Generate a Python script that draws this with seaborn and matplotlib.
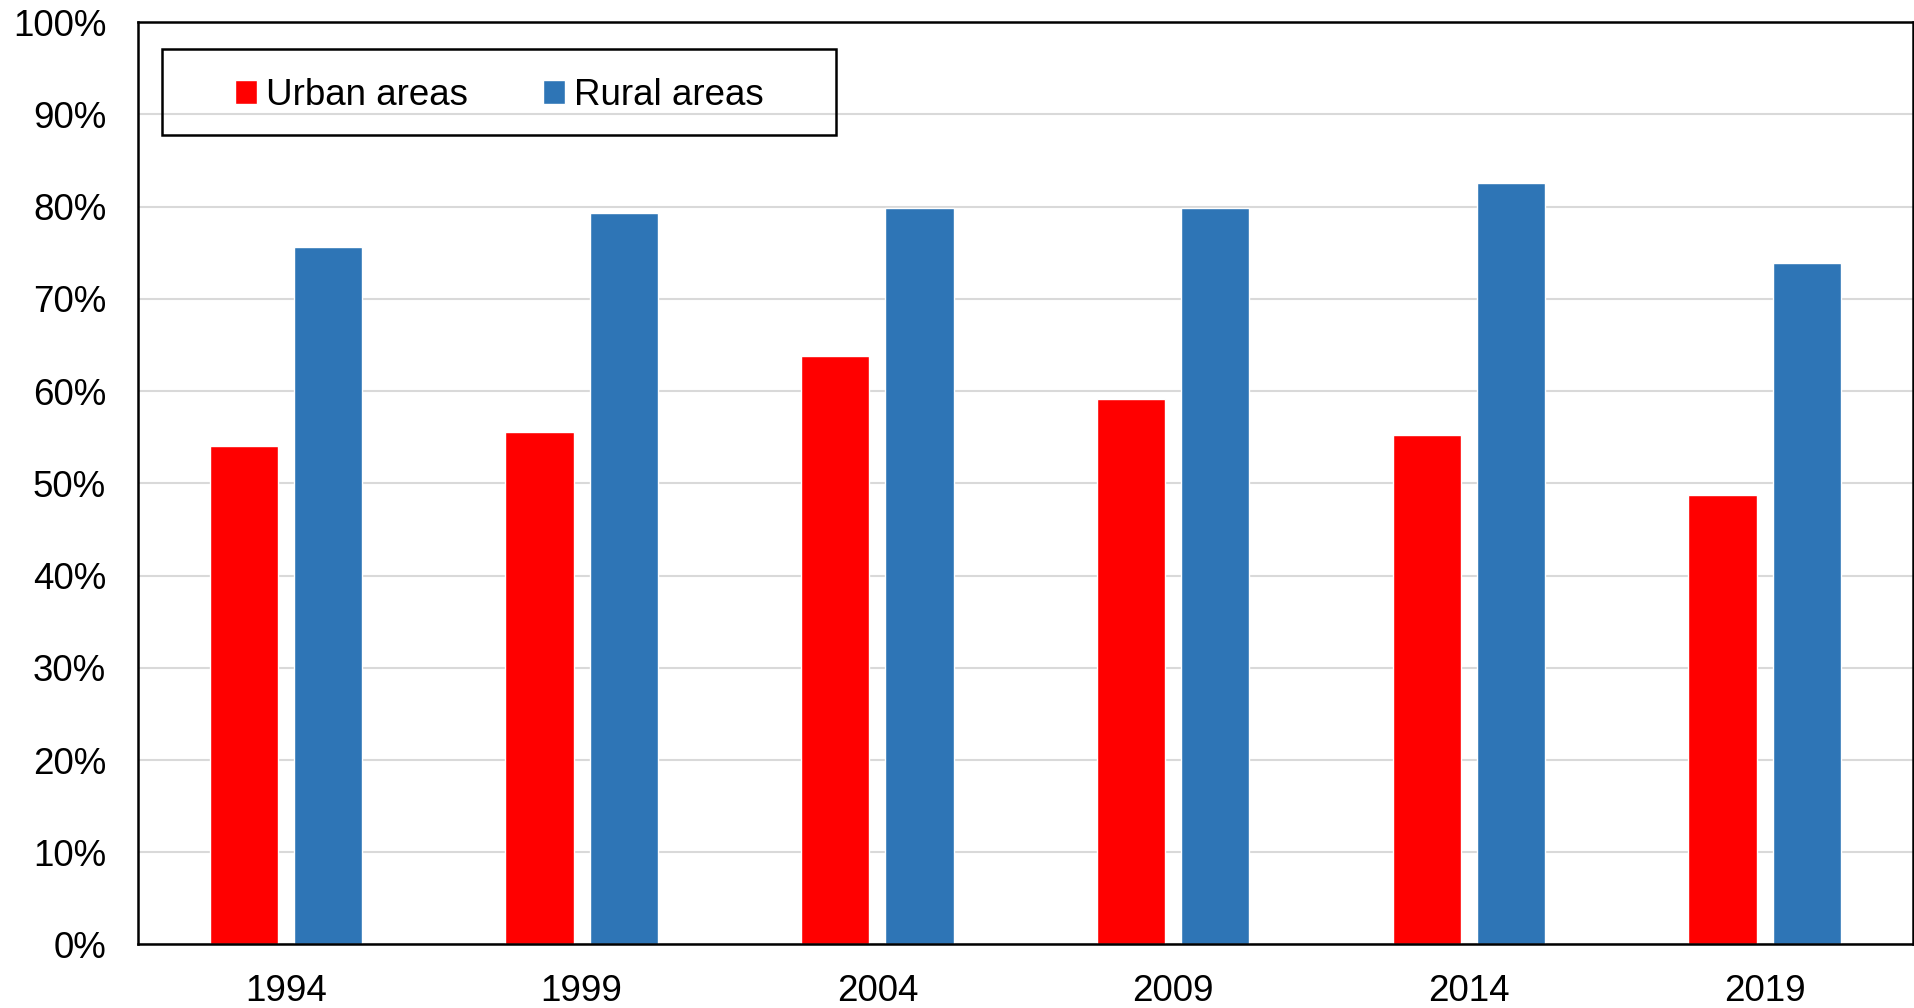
import pandas as pd
import numpy as np
import matplotlib
matplotlib.use("Agg")
import matplotlib.pyplot as plt
from matplotlib.patches import Patch, Rectangle
from matplotlib.ticker import PercentFormatter
import seaborn as sns

# values (percent)
years = ["1994", "1999", "2004", "2009", "2014", "2019"]
urban = [54.1, 55.6, 63.8, 59.1, 55.2, 48.7]
rural = [75.6, 79.3, 79.8, 79.9, 82.6, 73.9]
areas = ["Urban areas", "Rural areas"]
colors = ["#FF0000", "#2E75B6"]

df = pd.DataFrame({
    "year": years * 2,
    "share": urban + rural,
    "area": [areas[0]] * len(years) + [areas[1]] * len(years),
})

sns.set_style("white")
plt.rcParams["font.family"] = ["Liberation Sans", "DejaVu Sans"]
plt.rcParams["text.color"] = "black"

fig = plt.figure(figsize=(19.15, 10.08), dpi=100)
ax = fig.add_axes([0.0721, 0.063, 0.9266, 0.915])

sns.barplot(data=df, x="year", y="share", hue="area", order=years,
            hue_order=areas, palette=colors, width=0.57, gap=0.19,
            saturation=1, legend=False, ax=ax)

ax.set_xlim(-0.5, 5.5)
ax.set_ylim(0, 100)
ax.set_yticks(np.arange(0, 101, 10))
ax.yaxis.set_major_formatter(PercentFormatter(100, decimals=0))
ax.set_xlabel("")
ax.set_ylabel("")
ax.grid(axis="y", color="#d9d9d9", linewidth=1.5)
ax.set_axisbelow(True)
for s in ax.spines.values():
    s.set_color("black")
    s.set_linewidth(1.8)
ax.tick_params(axis="both", length=0, labelsize=26.5, colors="black")
ax.tick_params(axis="y", pad=23)
ax.tick_params(axis="x", pad=21)

# legend box
ax.add_patch(Rectangle((0.0135, 0.878), 0.380, 0.093, transform=ax.transAxes,
                       fill=False, edgecolor="black", linewidth=1.8, zorder=5))
handles = [Patch(facecolor=c, label=a) for a, c in zip(areas, colors)]
ax.legend(handles=handles, loc="center", bbox_to_anchor=(0.2035, 0.9205),
          ncol=2, frameon=False, fontsize=26.5, handlelength=0.6,
          handleheight=0.6, handletextpad=0.24, columnspacing=2.05,
          labelcolor="black")

fig.savefig("out.png", dpi=100, facecolor="white")
